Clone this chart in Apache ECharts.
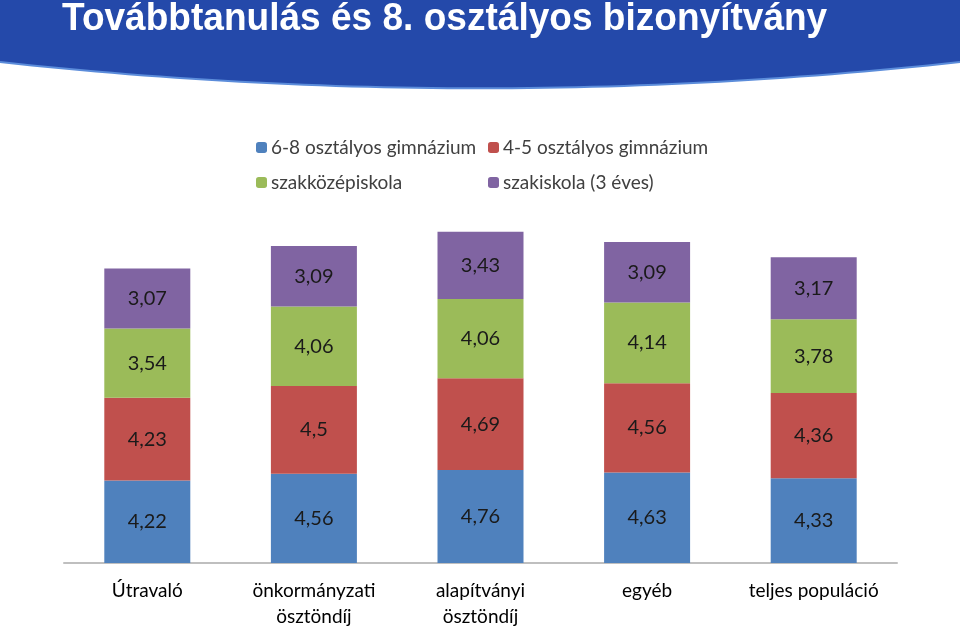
<!DOCTYPE html>
<html><head><meta charset="utf-8">
<script src="https://cdn.jsdelivr.net/npm/echarts@6/dist/echarts.min.js"></script>
<style>html,body{margin:0;padding:0;background:#fff}#c{width:960px;height:628px}</style>
</head><body><div id="c"></div>
<script>
const titleText = 'Továbbtanulás és 8. osztályos bizonyítvány';
const categories = ['Útravaló', 'önkormányzati\nösztöndíj', 'alapítványi\nösztöndíj', 'egyéb', 'teljes populáció'];
const seriesNames = ['6-8 osztályos gimnázium', '4-5 osztályos gimnázium', 'szakközépiskola', 'szakiskola (3 éves)'];
const gimn68 = [4.22, 4.56, 4.76, 4.63, 4.33];
const gimn45 = [4.23, 4.5, 4.69, 4.56, 4.36];
const szakkozep = [3.54, 4.06, 4.06, 4.14, 3.78];
const szakiskola = [3.07, 3.09, 3.43, 3.09, 3.17];
const colors = ['#4F81BD', '#C0504D', '#9BBB59', '#8064A2'];
const values = [gimn68, gimn45, szakkozep, szakiskola];

// banner curve (decoration)
function bannerCurve() {
  const pts = [];
  for (let k = 0; k <= 60; k++) {
    const t = k / 60, u = 1 - t;
    const x = u*u*u*960 + 3*u*u*t*640 + 3*u*t*t*320;
    const y = u*u*u*62 + 3*u*u*t*97 + 3*u*t*t*97 + t*t*t*62;
    pts.push([x, y]);
  }
  return pts;
}
const curve = bannerCurve();

const font = 'Lato, "Open Sans", sans-serif';
const chart = echarts.init(document.getElementById('c'));
chart.setOption({
  animation: false,
  color: colors,
  graphic: [
    { type: 'polygon', shape: { points: [[0, 0], [960, 0]].concat(curve) },
      style: { fill: '#2449AA' }, z: 0 },
    { type: 'polyline', shape: { points: curve },
      style: { stroke: '#5B8CDA', lineWidth: 2, fill: null }, z: 1 },
    { type: 'text', x: 62, y: 0, scaleX: 0.95, z: 2,
      style: { text: titleText, fill: '#fff', font: 'bold 39px "Liberation Sans", Arial, sans-serif' } }
  ],
  legend: [
    { orient: 'vertical', left: 256, top: 138, padding: 0, itemWidth: 11, itemHeight: 11, itemGap: 16,
      data: [seriesNames[0], seriesNames[2]],
      textStyle: { fontFamily: font, fontSize: 19, color: '#404040', padding: [0, 0, 0, -1] } },
    { orient: 'vertical', left: 488, top: 138, padding: 0, itemWidth: 11, itemHeight: 11, itemGap: 16,
      data: [seriesNames[1], seriesNames[3]],
      textStyle: { fontFamily: font, fontSize: 19, color: '#404040', padding: [0, 0, 0, -1] } }
  ],
  grid: { left: 64, right: 63, top: 172, bottom: 65, containLabel: false, outerBoundsMode: 'none' },
  xAxis: {
    type: 'category', data: categories,
    axisLine: { lineStyle: { color: '#BFBFBF', width: 2 } },
    axisTick: { show: false },
    axisLabel: { fontFamily: font, fontSize: 19, color: '#000', margin: 15, lineHeight: 26, interval: 0 }
  },
  yAxis: { type: 'value', min: 0, max: 20, show: false, splitLine: { show: false } },
  series: values.map((v, i) => ({
    name: seriesNames[i], type: 'bar', stack: 'total', barWidth: 86, data: v,
    itemStyle: { color: colors[i] },
    label: { show: true, position: 'inside', fontFamily: font, fontSize: 20, color: '#1a1a1a',
      formatter: p => String(p.value).replace('.', ',') }
  }))
});
</script></body></html>
